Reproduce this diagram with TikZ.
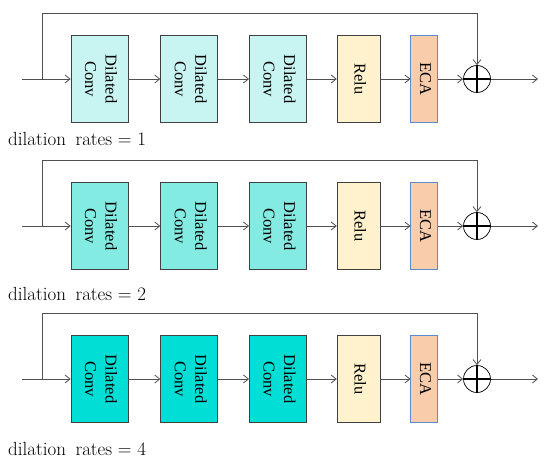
\documentclass[tikz,border=0pt]{standalone}
\usepackage{fontspec}
\usepackage{graphicx}
\newfontfamily\kotakfont{Liberation Serif}
\usetikzlibrary{arrows.meta, positioning}

\definecolor{konvA}{HTML}{C8F5F1}
\definecolor{konvB}{HTML}{84EBE3}
\definecolor{konvC}{HTML}{00DED5}
\definecolor{relufill}{HTML}{FFF2CC}
\definecolor{ecafill}{HTML}{F9CCAC}
\definecolor{ecadraw}{HTML}{5B8BD0}
\definecolor{garisabu}{HTML}{505050}

\newcommand{\tegak}[1]{\rotatebox{-90}{\begin{tabular}{@{}c@{}}#1\end{tabular}}}

\begin{document}
\begin{tikzpicture}[
      x=1pt, y=-1pt,
      kotak/.style={draw=black!75, line width=0.7pt, inner sep=0pt,
      minimum width=57pt, minimum height=87pt,
      font=\kotakfont\fontsize{16.5}{20.5}\selectfont},
      relu/.style={kotak, fill=relufill, minimum width=43pt},
      eca/.style={kotak, draw=ecadraw, fill=ecafill, minimum width=27pt},
      jumlah/.style={circle, draw=black, line width=0.7pt, minimum size=27pt, inner sep=0pt},
      panah/.style={-{Straight Barb[length=5pt, width=8pt]}, draw=garisabu, line width=0.8pt},
      garis/.style={draw=garisabu, line width=0.8pt},
      ket/.style={anchor=west, inner sep=0pt, font=\fontsize{19}{22}\selectfont}
    ]
    \useasboundingbox (0,0) rectangle (550,468);

    \foreach \r/\y/\ly/\warna in {1/79/139/konvA, 2/226/294/konvB, 4/379/449/konvC} {
      \node[kotak, fill=\warna] (konv1-\r) at (99.5,\y) {\tegak{Dilated\\Conv}};
      \node[kotak, fill=\warna, right=32pt of konv1-\r] (konv2-\r) {\tegak{Dilated\\Conv}};
      \node[kotak, fill=\warna, right=31pt of konv2-\r] (konv3-\r) {\tegak{Dilated\\Conv}};
      \node[relu, right=30pt of konv3-\r] (relu-\r) {\tegak{Relu}};
      \node[eca, right=30pt of relu-\r] (eca-\r) {\tegak{ECA}};
      \node[jumlah, right=25pt of eca-\r] (tambah-\r) {};
      \node[ket] (ket-\r) at (8,\ly) {dilation\hspace{0.5em}rates = \r};

      \coordinate (masuk-\r) at (22,\y);
      \coordinate (cabang-\r) at (42,\y);
      \coordinate (atas-\r) at (42,\y-66);
      \coordinate (keluar-\r) at (538,\y);

      % jalur utama
      \draw[panah] (masuk-\r) -- (konv1-\r);
      \draw[panah] (konv1-\r) -- (konv2-\r);
      \draw[panah] (konv2-\r) -- (konv3-\r);
      \draw[panah] (konv3-\r) -- (relu-\r);
      \draw[panah] (relu-\r) -- (eca-\r);
      \draw[panah] (eca-\r) -- (tambah-\r);
      \draw[panah] (tambah-\r) -- (keluar-\r);
      % jalur pintas
      \draw[panah] (cabang-\r) -- (atas-\r) -| (tambah-\r);
      % tanda plus
      \draw[line width=2pt] (tambah-\r.north) -- (tambah-\r.south)
        (tambah-\r.west) -- (tambah-\r.east);
    }
  \end{tikzpicture}
\end{document}
